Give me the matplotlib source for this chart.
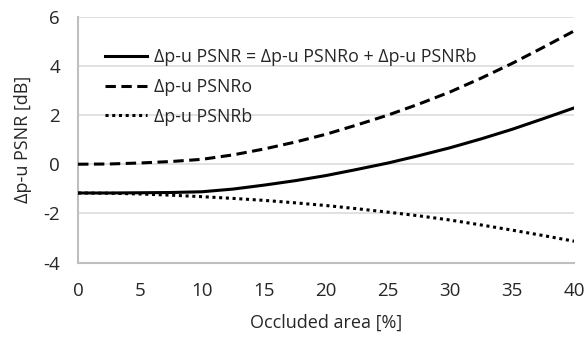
import matplotlib
matplotlib.use('Agg')
import matplotlib.pyplot as plt

plt.rcParams['font.family'] = ['Open Sans', 'DejaVu Sans']
plt.rcParams['axes.unicode_minus'] = False

# occluded area [%]
area = [0, 2.5, 5, 7.5, 10, 12.5, 15, 17.5, 20, 22.5, 25, 27.5, 30, 32.5, 35, 37.5, 40]
psnr_total = [-1.17, -1.17, -1.16, -1.15, -1.12, -1.01, -0.85, -0.67, -0.46, -0.21,
              0.05, 0.35, 0.67, 1.03, 1.42, 1.85, 2.29]
psnr_o = [0.0, 0.01, 0.05, 0.11, 0.2, 0.38, 0.62, 0.9, 1.22, 1.6,
          2.0, 2.45, 2.94, 3.5, 4.1, 4.75, 5.42]
psnr_b = [-1.17, -1.18, -1.21, -1.26, -1.32, -1.39, -1.47, -1.57, -1.68, -1.81,
          -1.95, -2.1, -2.27, -2.47, -2.68, -2.9, -3.13]

labels = ['\u0394p-u PSNR = \u0394p-u PSNRo + \u0394p-u PSNRb',
          '\u0394p-u PSNRo',
          '\u0394p-u PSNRb']
xticks = [0, 5, 10, 15, 20, 25, 30, 35, 40]
yticks = [-4, -2, 0, 2, 4, 6]

fig = plt.figure(figsize=(5.87, 3.41), dpi=100)
ax = fig.add_axes([0.133, 0.230, 0.845, 0.721])

lw = 2.2
ax.plot(area, psnr_total, color='black', linewidth=lw, label=labels[0], zorder=3)
ax.plot(area, psnr_o, color='black', linewidth=lw, linestyle=(0, (3.4, 1.8)), label=labels[1], zorder=3)
ax.plot(area, psnr_b, color='black', linewidth=lw, linestyle=(0, (1, 1.2)), label=labels[2], zorder=3)

ax.set_xlim(0, 40)
ax.set_ylim(-4, 6)
ax.set_xticks(xticks)
ax.set_yticks(yticks)
ax.tick_params(length=0, labelsize=13.5, labelcolor='#262626')
ax.tick_params(axis='y', pad=13)
ax.tick_params(axis='x', pad=14)
ax.grid(True, axis='y', color='#d9d9d9', linewidth=1.1, zorder=0)
ax.set_axisbelow(True)
for s in ['top', 'right']:
    ax.spines[s].set_visible(False)
for s in ['left', 'bottom']:
    ax.spines[s].set_color('#bfbfbf')
    ax.spines[s].set_linewidth(1.5)

ax.set_xlabel('Occluded area [%]', fontsize=13, color='#262626', labelpad=10)
ax.set_ylabel('\u0394p-u PSNR [dB]', fontsize=13, color='#262626', labelpad=8)

leg = ax.legend(loc='upper left', bbox_to_anchor=(0.04, 0.9), frameon=False,
                fontsize=12.8, handlelength=2.35, handletextpad=0.4, labelspacing=0.65,
                borderaxespad=0)
for t in leg.get_texts():
    t.set_color('#262626')

fig.savefig('out.png', dpi=100)
